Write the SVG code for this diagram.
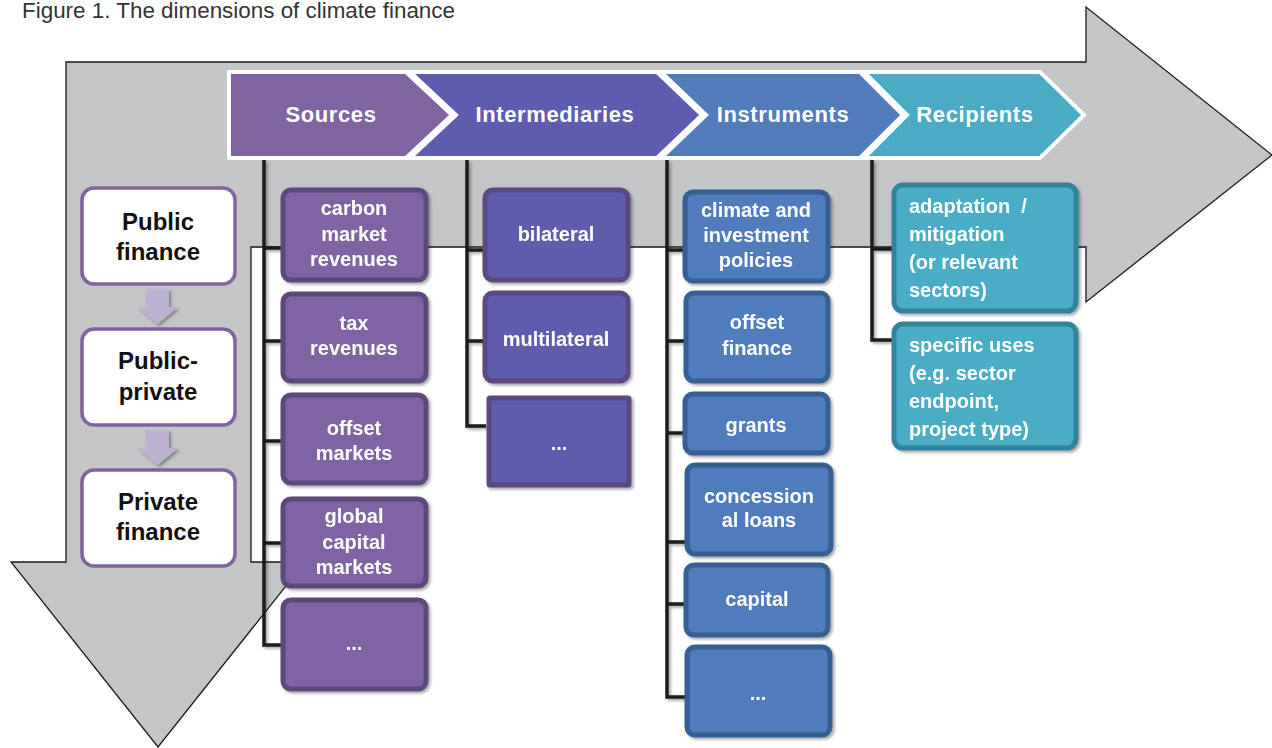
<svg xmlns="http://www.w3.org/2000/svg" width="1272" height="748" viewBox="0 0 1272 748">
<defs>
<filter id="sh" x="-10%" y="-10%" width="130%" height="130%">
<feDropShadow dx="2" dy="2" stdDeviation="1.5" flood-color="#000" flood-opacity="0.35"/>
</filter>
<style>
.t{font-family:"Liberation Sans",Arial,sans-serif;font-weight:bold;fill:#fff;text-anchor:middle}
.tl{font-family:"Liberation Sans",Arial,sans-serif;font-weight:bold;fill:#fff}
.hd{font-size:22px;letter-spacing:0.6px}
.bx{font-size:20px}
.lf{font-family:"Liberation Sans",Arial,sans-serif;font-weight:bold;fill:#111;text-anchor:middle;font-size:24px}
.wb{fill:#fff;stroke:#7f63a1;stroke-width:3.5}
.src{fill:#8064a2;stroke:#5d4a7c;stroke-width:5}
.int{fill:#5f5bae;stroke:#5d4a80;stroke-width:5}
.ins{fill:#4f7bbd;stroke:#385f92;stroke-width:5}
.rec{fill:#4bacc6;stroke:#31849b;stroke-width:5}
.chev{stroke:#fff;stroke-width:4;stroke-linejoin:miter}
.cn{fill:none;stroke:#1a1a1a;stroke-width:3.5}
.ar{fill:#bcb3d3}
</style>
</defs>
<rect width="1272" height="748" fill="#fff"/>
<text x="22" y="18" font-family="Liberation Sans,Arial,sans-serif" font-size="22" fill="#333" textLength="433" lengthAdjust="spacingAndGlyphs">Figure 1. The dimensions of climate finance</text>
<g id="flow-arrow">
<polygon points="66,62 1086,62 1086,7 1272,155 1086,302 1086,247 251,247 251,562 305,562 158,747 11,562 66,562" fill="#c4c5c7" stroke="#1a1a1a" stroke-width="1.3"/>
</g>
<g id="chevrons">
<g id="chev-sources"><polygon class="chev" fill="#8064a2" points="229,72 406,72 452,115 406,158 229,158"/><text class="t hd" x="331" y="122">Sources</text></g>
<g id="chev-intermediaries"><polygon class="chev" fill="#5f5bae" points="410,72 657,72 702,115 657,158 410,158 456,115"/><text class="t hd" x="555" y="122">Intermediaries</text></g>
<g id="chev-instruments"><polygon class="chev" fill="#527bbc" points="661,72 860,72 903,115 860,158 661,158 706,115"/><text class="t hd" x="783" y="122">Instruments</text></g>
<g id="chev-recipients"><polygon class="chev" fill="#4babc5" points="864,72 1040,72 1084,115 1040,158 864,158 907,115"/><text class="t hd" x="975" y="122">Recipients</text></g>
</g>
<g id="connectors" filter="url(#sh)">
<path class="cn" d="M264,160 V645 H283 M264,248 H283 M264,341 H283 M264,441 H283 M264,543 H283"/>
<path class="cn" d="M467,160 V426 H486 M467,250 H486 M467,341 H486"/>
<path class="cn" d="M667,160 V697 H686 M667,250 H686 M667,341 H686 M667,433 H686 M667,542 H686 M667,604 H686"/>
<path class="cn" d="M872,160 V340 H894 M872,249 H894"/>
<polygon class="ar" points="146,289 169,289 169,307 178,307 157.5,324 137,307 146,307"/>
<polygon class="ar" points="146,430 169,430 169,448 178,448 157.5,465 137,448 146,448"/>
</g>
<g id="public-finance"><rect class="wb" x="82" y="188" width="153" height="96" rx="12"/><text class="lf" x="158" y="230">Public</text><text class="lf" x="158" y="260">finance</text></g>
<g id="public-private"><rect class="wb" x="82" y="329" width="153" height="96" rx="12"/><text class="lf" x="158" y="369">Public-</text><text class="lf" x="158" y="400">private</text></g>
<g id="private-finance"><rect class="wb" x="82" y="470" width="153" height="96" rx="12"/><text class="lf" x="158" y="510">Private</text><text class="lf" x="158" y="540">finance</text></g>
<g filter="url(#sh)">
<g id="src-carbon"><rect class="src" x="283" y="190" width="143" height="90" rx="8"/><text class="t bx" x="354" y="215">carbon</text><text class="t bx" x="354" y="241">market</text><text class="t bx" x="354" y="266">revenues</text></g>
<g id="src-tax"><rect class="src" x="283" y="294" width="143" height="87" rx="8"/><text class="t bx" x="354" y="330">tax</text><text class="t bx" x="354" y="355">revenues</text></g>
<g id="src-offset"><rect class="src" x="283" y="395" width="143" height="88" rx="8"/><text class="t bx" x="354" y="435">offset</text><text class="t bx" x="354" y="460">markets</text></g>
<g id="src-global"><rect class="src" x="283" y="499" width="143" height="87" rx="8"/><text class="t bx" x="354" y="523">global</text><text class="t bx" x="354" y="549">capital</text><text class="t bx" x="354" y="574">markets</text></g>
<g id="src-more"><rect class="src" x="283" y="600" width="143" height="89" rx="8"/><text class="t bx" x="354" y="650">...</text></g>
<g id="int-bilateral"><rect class="int" x="485" y="190" width="143" height="90" rx="8"/><text class="t bx" x="556" y="241">bilateral</text></g>
<g id="int-multilateral"><rect class="int" x="485" y="293" width="143" height="88" rx="8"/><text class="t bx" x="556" y="346">multilateral</text></g>
<g id="int-more"><rect class="int" x="489" y="398" width="140" height="87" rx="1" stroke-width="3"/><text class="t bx" x="559" y="450">...</text></g>
<g id="ins-climate"><rect class="ins" x="685" y="192" width="143" height="89" rx="8"/><text class="t bx" x="756" y="217">climate and</text><text class="t bx" x="756" y="242">investment</text><text class="t bx" x="756" y="267">policies</text></g>
<g id="ins-offset"><rect class="ins" x="686" y="293" width="142" height="88" rx="8"/><text class="t bx" x="757" y="329">offset</text><text class="t bx" x="757" y="355">finance</text></g>
<g id="ins-grants"><rect class="ins" x="685" y="394" width="143" height="59" rx="8"/><text class="t bx" x="756" y="432">grants</text></g>
<g id="ins-concessional"><rect class="ins" x="687" y="465" width="144" height="89" rx="8"/><text class="t bx" x="759" y="503">concession</text><text class="t bx" x="759" y="527">al loans</text></g>
<g id="ins-capital"><rect class="ins" x="686" y="565" width="142" height="70" rx="8"/><text class="t bx" x="757" y="606">capital</text></g>
<g id="ins-more"><rect class="ins" x="687" y="647" width="143" height="88" rx="8"/><text class="t bx" x="758" y="700">...</text></g>
<g id="rec-adaptation"><rect class="rec" x="894" y="185" width="182" height="126" rx="9"/><text class="tl bx" x="909" y="213">adaptation&#160; /</text><text class="tl bx" x="909" y="241">mitigation</text><text class="tl bx" x="909" y="269">(or relevant</text><text class="tl bx" x="909" y="297">sectors)</text></g>
<g id="rec-specific"><rect class="rec" x="894" y="324" width="182" height="124" rx="9"/><text class="tl bx" x="909" y="352">specific uses</text><text class="tl bx" x="909" y="380">(e.g. sector</text><text class="tl bx" x="909" y="408">endpoint,</text><text class="tl bx" x="909" y="436">project type)</text></g>
</g>
</svg>
